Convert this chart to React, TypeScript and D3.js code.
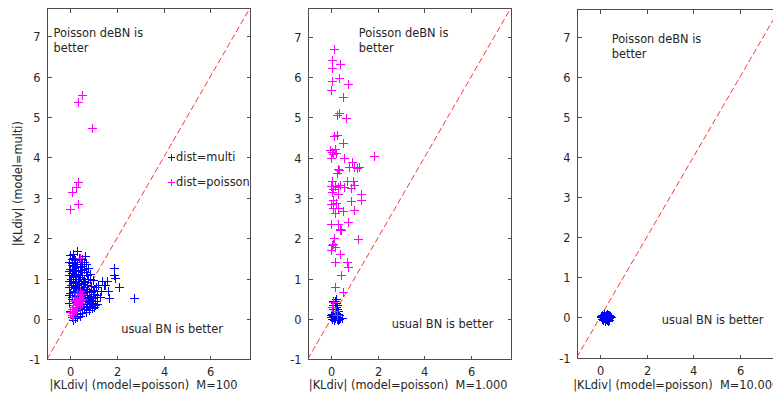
import React from 'react';
import * as d3 from 'd3';

const X_TICKS = [0, 2, 4, 6];
const Y_TICKS = [-1, 0, 1, 2, 3, 4, 5, 6, 7];
const DOMAIN_MIN = -1;
const DOMAIN_MAX = 7.7;
const M_LABELS = ['M=100', 'M=1.000', 'M=10.000'];
const X_TITLE = '|KLdiv| (model=poisson)  ';
const Y_TITLE = '|KLdiv| (model=multi)';
const TOP_NOTE = ['Poisson deBN is', 'better'];
const BOTTOM_NOTE = 'usual BN is better';
const LEGEND_LABELS = ['dist=multi', 'dist=poisson'];

// Panel 1 (M=100)
const blue1: [number, number][] = [
  [0.0, 1.59], [0.29, 1.67], [0.64, 1.55], [0.12, 1.62],
  [0.08, 1.48], [0.22, 1.45], [0.45, 1.42], [0.35, 1.5], [-0.04, 1.42], [0.58, 1.4],
  [0.05, 1.33], [0.3, 1.35], [0.52, 1.3], [0.75, 1.26], [0.18, 1.3], [0.4, 1.28],
  [0.0, 1.24], [0.15, 1.2], [0.33, 1.19], [0.5, 1.17], [0.65, 1.15], [0.86, 1.12], [0.24, 1.22], [-0.06, 1.18],
  [-0.05, 1.08], [0.1, 1.07], [0.26, 1.05], [0.41, 1.03], [0.6, 1.0], [0.76, 0.99], [0.95, 0.96], [0.18, 1.0], [0.5, 1.08], [0.03, 1.0],
  [0.0, 0.93], [0.2, 0.92], [0.31, 0.9], [0.44, 0.88], [0.56, 0.86], [0.7, 0.85], [0.88, 0.82], [0.12, 0.88], [0.62, 0.92], [0.38, 0.95],
  [1.1, 0.78], [-0.05, 0.8], [0.1, 0.78], [0.25, 0.76], [0.36, 0.73], [0.5, 0.71], [0.66, 0.69], [0.8, 0.66], [0.95, 0.72], [0.2, 0.82], [0.45, 0.8], [0.58, 0.78],
  [1.0, 0.62], [1.15, 0.6], [0.0, 0.65], [0.15, 0.6], [0.3, 0.58], [0.45, 0.56], [0.6, 0.55], [0.72, 0.6], [0.88, 0.58], [0.05, 0.55], [0.22, 0.66], [0.52, 0.64],
  [0.75, 0.5], [0.9, 0.48], [1.05, 0.45], [0.05, 0.5], [0.2, 0.45], [0.35, 0.42], [0.55, 0.4], [0.68, 0.44], [1.15, 0.38], [0.82, 0.42], [0.4, 0.5], [0.98, 0.52],
  [0.7, 0.38], [0.85, 0.33], [1.0, 0.3], [0.1, 0.35], [0.25, 0.3], [0.4, 0.28], [0.6, 0.25], [0.78, 0.22], [0.5, 0.32], [0.92, 0.26],
  [0.0, 0.2], [0.15, 0.15], [0.3, 0.12], [0.5, 0.15], [0.65, 0.18], [0.4, 0.08],
  [0.05, 0.05], [0.2, 0.02], [0.12, -0.02], [0.28, 0.04],
  [0.07, 1.38], [0.14, 1.52], [0.27, 1.4], [0.4, 1.36], [0.47, 1.22], [0.6, 1.24], [0.7, 1.08], [0.83, 1.0],
  [0.08, 1.14], [0.2, 1.12], [0.34, 1.1], [0.03, 0.85], [0.16, 0.7], [0.28, 0.84], [0.42, 0.66], [0.55, 0.95],
  [0.73, 0.75], [0.9, 0.66], [1.03, 0.7], [0.64, 0.46], [0.96, 0.4], [0.8, 0.55], [0.3, 0.22], [0.58, 0.3],
  [-0.07, 0.95], [-0.07, 0.6], [-0.04, 0.4], [0.08, 0.2], [0.35, 1.0], [0.12, 1.3], [0.48, 1.48], [0.68, 1.35],
  [1.86, 1.26], [1.89, 1.1], [1.55, 0.93], [1.5, 0.85], [1.19, 0.85], [1.93, 1.01], [2.07, 0.8], [1.62, 0.7],
  [1.64, 0.51], [2.72, 0.51], [1.07, 0.35], [1.43, 0.83], [1.3, 0.68], [1.25, 0.55], [1.35, 0.95],
];
const magenta1: [number, number][] = [
  [0.5, 5.55], [0.31, 5.36], [0.93, 4.74], [0.31, 3.38], [0.26, 3.27], [0.07, 3.14], [0.0, 2.71], [0.31, 2.84], [0.43, 1.52],
  [0.05, 0.1], [0.1, 0.15], [0.15, 0.2], [0.2, 0.25], [0.1, 0.3], [0.2, 0.35], [0.3, 0.3], [0.25, 0.4], [0.35, 0.45], [0.15, 0.45],
  [0.3, 0.5], [0.4, 0.55], [0.45, 0.48], [0.35, 0.6], [0.5, 0.62], [0.42, 0.7], [0.2, 0.55], [0.05, 0.25], [0.25, 0.2], [0.4, 0.35],
  [0.55, 0.5], [0.12, 0.05], [0.3, 0.65], [0.48, 0.4], [0.28, 0.35], [0.18, 0.3], [0.33, 0.4], [0.22, 0.48], [0.38, 0.52], [0.0, 0.18],
];

// Panel 2 (M=1.000)
const blue2: [number, number][] = [
  [0.1, 0.45], [0.2, 0.5], [0.15, 0.4], [0.25, 0.35], [0.2, 0.3], [0.1, 0.25], [0.3, 0.2], [0.15, 0.15], [0.0, 0.1], [0.1, 0.05],
  [0.2, 0.08], [0.3, 0.05], [0.4, 0.03], [0.05, 0.0], [0.15, 0.02], [0.25, 0.0], [0.35, 0.1], [0.45, 0.02], [0.0, 0.05], [0.2, 0.15],
  [0.3, 0.12], [0.05, 0.12], [0.25, 0.25], [0.1, 0.35], [0.18, 0.45], [0.22, 0.4], [0.12, -0.02], [0.28, -0.03], [0.35, 0.0], [0.08, 0.08],
];
const magenta2: [number, number][] = [
  [0.12, 6.7], [0.04, 6.43], [0.04, 6.23], [0.4, 6.31], [0.04, 5.9], [0.36, 5.96], [0.0, 5.67], [0.72, 5.83], [0.5, 5.5],
  [0.34, 5.11], [0.24, 5.05], [0.64, 4.97], [0.12, 4.53], [0.24, 4.55], [0.5, 4.37],
  [-0.05, 4.2], [0.05, 4.15], [0.15, 4.22], [0.1, 4.08], [0.2, 4.12], [1.86, 4.04], [0.0, 4.0], [0.57, 4.0],
  [0.89, 3.9], [1.0, 3.77], [1.1, 3.75], [1.18, 3.77], [0.76, 3.77], [0.36, 3.7], [0.24, 3.62], [0.29, 3.72],
  [0.05, 3.42], [0.7, 3.42], [0.93, 3.41], [1.0, 3.31], [0.0, 3.3], [0.15, 3.3], [0.3, 3.28], [0.4, 3.32], [0.1, 3.22],
  [0.84, 3.25], [0.55, 3.28], [0.3, 3.1], [1.3, 3.1], [0.05, 3.15],
  [1.3, 2.96], [0.86, 2.92], [0.22, 2.88], [0.07, 2.75], [0.3, 2.75], [0.5, 2.68], [0.97, 2.7], [0.17, 2.62], [0.1, 2.95], [0.0, 2.85],
  [0.74, 2.4], [0.0, 2.35], [0.3, 2.35], [0.37, 2.2], [0.44, 2.2], [0.4, 2.24], [0.14, 2.0], [1.15, 1.99],
  [0.03, 1.84], [0.17, 1.78], [0.1, 1.85], [0.0, 1.7], [0.37, 1.6], [0.15, 1.42], [0.68, 1.42], [0.74, 1.28],
  [0.43, 1.09], [0.17, 0.8], [0.5, 0.68], [0.07, 0.42], [0.05, 0.3], [0.15, 0.2], [0.25, 0.1],
];

// Panel 3 (M=10.000)
const blue3: [number, number][] = [
  [0.02, 0.0], [0.1, 0.0], [0.15, 0.05], [0.2, -0.05], [0.25, 0.03], [0.3, 0.0], [0.35, -0.03], [0.4, 0.05], [0.45, 0.0],
  [0.12, -0.06], [0.18, 0.08], [0.22, 0.02], [0.28, -0.07], [0.32, 0.06], [0.38, -0.02], [0.14, 0.03], [0.26, 0.07],
  [0.34, 0.02], [0.2, 0.04], [0.3, -0.04], [0.16, -0.02], [0.42, 0.03], [0.24, -0.03], [0.1, 0.06], [0.36, 0.07],
  [0.08, -0.04], [0.4, -0.06], [0.06, 0.04], [0.28, 0.09], [0.2, -0.09], [0.33, -0.08], [0.15, 0.09],
];

const PANELS = [
  { blue: blue1, magenta: magenta1, m: M_LABELS[0], left: 47, right: 250, top: 8, bottom: 359.3, topNote: [-0.72, 6.97], bottomNote: [2.18, -0.36], legend: true, yTitle: true, titleDx: -5 },
  { blue: blue2, magenta: magenta2, m: M_LABELS[1], left: 307.7, right: 510.7, top: 8.3, bottom: 359.3, topNote: [1.19, 7.0], bottomNote: [2.6, -0.22], legend: false, yTitle: false, titleDx: -1 },
  { blue: blue3, magenta: [] as [number, number][], m: M_LABELS[2], left: 576.7, right: 779.7, top: 8.7, bottom: 357.5, topNote: [0.5, 6.85], bottomNote: [2.65, -0.17], legend: false, yTitle: false, titleDx: -2 },
];

const FONT = "'DejaVu Sans', 'Liberation Sans', Arial, sans-serif";
const FS = 11.4;
const AXIS_COLOR = '#4d4d4d';
const TEXT_COLOR = '#262626';
const BLUE = '#0000ff';
const MAGENTA = '#ff00ff';

function plus(cx: number, cy: number, r: number) {
  const x = Math.round(cx) + 0.5;
  const y = Math.round(cy) + 0.5;
  return `M${x - r},${y}H${x + r}M${x},${y - r}V${y + r}`;
}

function Panel({ p, idx }: { p: typeof PANELS[number]; idx: number }) {
  const sx = d3.scaleLinear().domain([DOMAIN_MIN, DOMAIN_MAX]).range([p.left, p.right]);
  const sy = d3.scaleLinear().domain([DOMAIN_MIN, DOMAIN_MAX]).range([p.bottom, p.top]);
  const clipId = `clip${idx}`;
  const line = d3.line<[number, number]>().x((d) => sx(d[0])).y((d) => sy(d[1]));
  const diag: [number, number][] = [[DOMAIN_MIN, DOMAIN_MIN], [DOMAIN_MAX, DOMAIN_MAX]];
  const tl = 4;
  const L = Math.round(p.left) + 0.5;
  const R = Math.round(p.right) + 0.5;
  const T = Math.round(p.top) + 0.5;
  const B = Math.round(p.bottom) + 0.5;
  return (
    <g>
      <defs>
        <clipPath id={clipId}>
          <rect x={p.left} y={p.top} width={p.right - p.left} height={p.bottom - p.top} />
        </clipPath>
      </defs>
      <rect x={p.left} y={p.top} width={p.right - p.left} height={p.bottom - p.top} fill="#fff" />
      <g clipPath={`url(#${clipId})`}>
        <path d={line(diag) || ''} stroke="#ff0000" strokeWidth={1} strokeDasharray="6,3" fill="none" opacity={0.8} />
        {p.blue.map((d, i) => (
          <path key={`b${i}`} d={plus(sx(d[0]), sy(d[1]), 4.5)} stroke={BLUE} strokeWidth={1} fill="none" />
        ))}
        {p.magenta.map((d, i) => (
          <path key={`m${i}`} d={plus(sx(d[0]), sy(d[1]), 4.5)} stroke={MAGENTA} strokeWidth={1} fill="none" />
        ))}
      </g>
      <path d={`M${L},${T}H${R}V${B}H${L}Z`} stroke={AXIS_COLOR} strokeWidth={1} fill="none" shapeRendering="crispEdges" />
      {X_TICKS.map((t) => {
        const x = Math.round(sx(t)) + 0.5;
        return (
          <g key={`x${t}`}>
            <path d={`M${x},${B}V${B - tl}M${x},${T}V${T + tl}`} stroke={AXIS_COLOR} shapeRendering="crispEdges" />
            <text x={x} y={B + 16} textAnchor="middle" fontSize={FS} fontFamily={FONT} fill={TEXT_COLOR}>{t}</text>
          </g>
        );
      })}
      {Y_TICKS.map((t) => {
        const y = Math.round(sy(t)) + 0.5;
        return (
          <g key={`y${t}`}>
            <path d={`M${L},${y}H${L + tl}M${R},${y}H${R - tl}`} stroke={AXIS_COLOR} shapeRendering="crispEdges" />
            <text x={L - 7} y={y + 4} textAnchor="end" fontSize={FS} fontFamily={FONT} fill={TEXT_COLOR}>{t}</text>
          </g>
        );
      })}
      <text x={sx(p.topNote[0])} y={sy(p.topNote[1])} fontSize={FS} fontFamily={FONT} fill={TEXT_COLOR}>
        <tspan x={sx(p.topNote[0])}>{TOP_NOTE[0]}</tspan>
        <tspan x={sx(p.topNote[0])} dy={15}>{TOP_NOTE[1]}</tspan>
      </text>
      <text x={sx(p.bottomNote[0])} y={sy(p.bottomNote[1])} fontSize={FS} fontFamily={FONT} fill={TEXT_COLOR}>{BOTTOM_NOTE}</text>
      <text x={(p.left + p.right) / 2 + p.titleDx} y={389} textAnchor="middle" fontSize={FS} fontFamily={FONT} fill={TEXT_COLOR} style={{ whiteSpace: 'pre' }}>{X_TITLE + p.m}</text>
      {p.yTitle && (
        <text transform={`translate(22,${(p.top + p.bottom) / 2}) rotate(-90)`} textAnchor="middle" fontSize={FS} fontFamily={FONT} fill={TEXT_COLOR}>{Y_TITLE}</text>
      )}
      {p.legend && (
        <g>
          <path d={plus(171, 157, 3.5)} stroke={BLUE} fill="none" />
          <text x={176} y={161} fontSize={FS} fontFamily={FONT} fill={TEXT_COLOR}>{LEGEND_LABELS[0]}</text>
          <path d={plus(171, 182, 3.5)} stroke={MAGENTA} fill="none" />
          <text x={176} y={186} fontSize={FS} fontFamily={FONT} fill={TEXT_COLOR}>{LEGEND_LABELS[1]}</text>
        </g>
      )}
    </g>
  );
}

export default function App() {
  return (
    <svg width={773} height={399} style={{ position: 'absolute', left: 0, top: 0, background: '#fff' }}>
      <rect x={0} y={0} width={773} height={399} fill="#fff" />
      {PANELS.map((p, i) => (
        <Panel key={i} p={p} idx={i} />
      ))}
    </svg>
  );
}
